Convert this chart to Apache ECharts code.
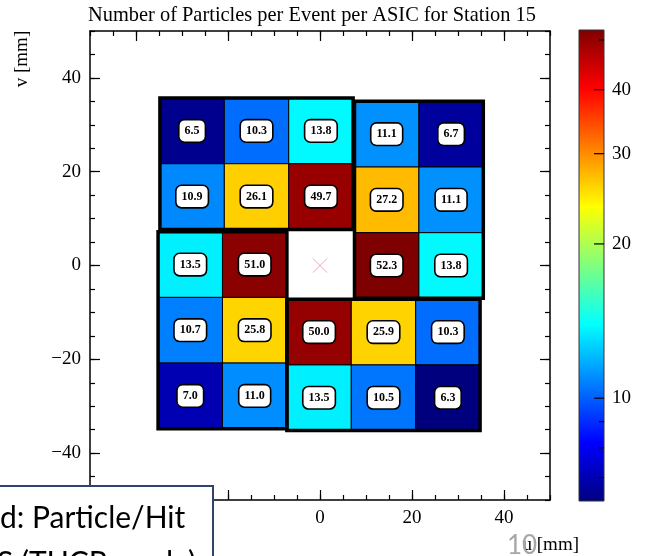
<!DOCTYPE html>
<html>
<head>
<meta charset="utf-8">
<script src="https://cdn.jsdelivr.net/npm/echarts@6/dist/echarts.min.js"></script>
<style>
html,body{margin:0;padding:0;background:#fff;}
#chart{width:648px;height:556px;}
</style>
</head>
<body>
<div id="chart"></div>
<script>
// ---- data ----
const titleText = 'Number of Particles per Event per ASIC for Station 15';
// ASIC modules (pinwheel layout), origins in mm (lower-left corner)
const moduleX0 = [-34.8, 7.5, -7.2, -35.2];
const moduleY0 = [7.7, -7.0, -35.2, -34.8];
const moduleCols = [3, 2, 3, 2];
const moduleRows = [2, 3, 2, 3];
const cellSize = 14; // mm
// values per module, row-major starting from the top row
const topModuleValues = [6.5, 10.3, 13.8, 10.9, 26.1, 49.7];
const rightModuleValues = [11.1, 6.7, 27.2, 11.1, 52.3, 13.8];
const bottomModuleValues = [50.0, 25.9, 10.3, 13.5, 10.5, 6.3];
const leftModuleValues = [13.5, 51.0, 10.7, 25.8, 7.0, 11.0];
const moduleValues = [topModuleValues, rightModuleValues, bottomModuleValues, leftModuleValues];
const centerMark = [[0, 0]];
const colorbarMajor = [10, 20, 30, 40];
const colorbarMinor = [7, 8, 9, 50];
const jet = ['#00007f', '#0000ff', '#007fff', '#00ffff', '#7fff7f', '#ffff00', '#ff7f00', '#ff0000', '#7f0000'];

// ---- build ----
const cells = [];
const modules = [];
const allVals = [];
for (let m = 0; m < moduleX0.length; m++) {
  const x0 = moduleX0[m], y0 = moduleY0[m], nc = moduleCols[m], nr = moduleRows[m];
  modules.push([x0, y0, x0 + nc * cellSize, y0 + nr * cellSize]);
  for (let r = 0; r < nr; r++) {
    for (let c = 0; c < nc; c++) {
      const v = moduleValues[m][r * nc + c];
      const cx0 = x0 + c * cellSize;
      const cy1 = y0 + (nr - r) * cellSize;
      cells.push([cx0, cy1 - cellSize, cx0 + cellSize, cy1, v, Math.log10(v)]);
      allVals.push(v);
    }
  }
}
const vMin = Math.min(...allVals), vMax = Math.max(...allVals);
const lMin = Math.log10(vMin), lMax = Math.log10(vMax);
const cbTicks = colorbarMajor.map(v => [1, Math.log10(v), 1, v]).concat(colorbarMinor.map(v => [1, Math.log10(v), 0, v]));

const SERIF = '"Liberation Serif", "Times New Roman", serif';
const fmtY = v => (v < 0 ? '\u2212' + Math.abs(v) : String(v));
const fmtX = v => (v < 0 ? '' : String(v));
const lineStyle = { color: '#000', width: 1.5 };
const tickStyle = { color: '#000', width: 1.2 };
const axLine = { show: true, onZero: false, lineStyle };
const noLine = { show: false, onZero: false };

const chart = echarts.init(document.getElementById('chart'), null, { renderer: 'canvas' });

const G = { left: 90, top: 31, width: 460, height: 469 };
const pxPerX = G.width / 100, pxPerY = G.height / 100;

const option = {
  backgroundColor: '#fff',
  animation: false,
  grid: [
    { left: G.left, top: G.top, width: G.width, height: G.height },
    { left: G.left + 10 * pxPerX, top: G.top, width: 80 * pxPerX, height: G.height },
    { left: G.left, top: G.top + 10 * pxPerY, width: G.width, height: 80 * pxPerY },
    { left: 579, top: 30, width: 25, height: 471 }
  ],
  xAxis: [
    { gridIndex: 0, type: 'value', position: 'bottom', min: -50, max: 50, interval: 5,
      axisLine: axLine, axisTick: { show: true, inside: true, length: 5, lineStyle: tickStyle },
      axisLabel: { show: false }, splitLine: { show: false } },
    { gridIndex: 0, type: 'value', position: 'top', min: -50, max: 50, interval: 5,
      axisLine: axLine, axisTick: { show: true, inside: true, length: 5, lineStyle: tickStyle },
      axisLabel: { show: false }, splitLine: { show: false } },
    { gridIndex: 1, type: 'value', position: 'bottom', min: -40, max: 40, interval: 20,
      axisLine: noLine, axisTick: { show: true, inside: true, length: 10, lineStyle: tickStyle },
      axisLabel: { show: true, margin: 9, formatter: fmtX, color: '#000', fontFamily: SERIF, fontSize: 19 },
      splitLine: { show: false } },
    { gridIndex: 1, type: 'value', position: 'top', min: -40, max: 40, interval: 20,
      axisLine: noLine, axisTick: { show: true, inside: true, length: 10, lineStyle: tickStyle },
      axisLabel: { show: false }, splitLine: { show: false } },
    { gridIndex: 2, type: 'value', show: false, min: -50, max: 50, axisLine: noLine },
    { gridIndex: 3, type: 'value', show: false, min: 0, max: 1, axisLine: noLine }
  ],
  yAxis: [
    { gridIndex: 0, type: 'value', position: 'left', min: -50, max: 50, interval: 5,
      axisLine: axLine, axisTick: { show: true, inside: true, length: 5, lineStyle: tickStyle },
      axisLabel: { show: false }, splitLine: { show: false } },
    { gridIndex: 0, type: 'value', position: 'right', min: -50, max: 50, interval: 5,
      axisLine: axLine, axisTick: { show: true, inside: true, length: 5, lineStyle: tickStyle },
      axisLabel: { show: false }, splitLine: { show: false } },
    { gridIndex: 1, type: 'value', show: false, min: -50, max: 50, axisLine: noLine },
    { gridIndex: 2, type: 'value', position: 'left', min: -40, max: 40, interval: 20,
      axisLine: noLine, axisTick: { show: true, inside: true, length: 10, lineStyle: tickStyle },
      axisLabel: { show: true, margin: 9, formatter: fmtY, color: '#000', fontFamily: SERIF, fontSize: 19 },
      splitLine: { show: false } },
    { gridIndex: 2, type: 'value', position: 'right', min: -40, max: 40, interval: 20,
      axisLine: noLine, axisTick: { show: true, inside: true, length: 10, lineStyle: tickStyle },
      axisLabel: { show: false }, splitLine: { show: false } },
    { gridIndex: 3, type: 'value', show: false, min: lMin, max: lMax, axisLine: noLine }
  ],
  visualMap: [{
    type: 'continuous', show: false, seriesIndex: 0, dimension: 5,
    min: lMin, max: lMax, inRange: { color: jet }
  }],
  series: [
    { // cells
      type: 'custom', xAxisIndex: 0, yAxisIndex: 0, data: cells, clip: false,
      renderItem: function (params, api) {
        const p0 = api.coord([api.value(0), api.value(3)]);
        const p1 = api.coord([api.value(2), api.value(1)]);
        const cx = (p0[0] + p1[0]) / 2, cy = (p0[1] + p1[1]) / 2;
        return {
          type: 'group',
          children: [
            { type: 'rect', shape: { x: p0[0], y: p0[1], width: p1[0] - p0[0], height: p1[1] - p0[1] },
              style: { fill: api.visual('color'), stroke: '#000', lineWidth: 1 } },
            { type: 'text', x: cx, y: cy, z2: 10,
              style: { text: api.value(4).toFixed(1), font: 'bold 12px ' + SERIF, fill: '#000',
                align: 'center', verticalAlign: 'middle', backgroundColor: '#fff',
                borderColor: '#000', borderWidth: 1.6, borderRadius: 5, padding: [5, 5, 4, 5] } }
          ]
        };
      }
    },
    { // module outlines
      type: 'custom', xAxisIndex: 0, yAxisIndex: 0, data: modules, clip: false, silent: true,
      renderItem: function (params, api) {
        const p0 = api.coord([api.value(0), api.value(3)]);
        const p1 = api.coord([api.value(2), api.value(1)]);
        return { type: 'rect', shape: { x: p0[0], y: p0[1], width: p1[0] - p0[0], height: p1[1] - p0[1] },
          style: { fill: 'none', stroke: '#000', lineWidth: 3.5 } };
      }
    },
    { // center marker
      type: 'custom', xAxisIndex: 0, yAxisIndex: 0, data: centerMark, silent: true,
      renderItem: function (params, api) {
        const p = api.coord([api.value(0), api.value(1)]);
        const s = 7;
        return { type: 'group', children: [
          { type: 'line', shape: { x1: p[0] - s, y1: p[1] - s, x2: p[0] + s, y2: p[1] + s }, style: { stroke: '#f5a3bd', lineWidth: 1 } },
          { type: 'line', shape: { x1: p[0] - s, y1: p[1] + s, x2: p[0] + s, y2: p[1] - s }, style: { stroke: '#f5a3bd', lineWidth: 1 } }
        ] };
      }
    },
    { // colorbar
      type: 'custom', xAxisIndex: 5, yAxisIndex: 5, data: [[0, lMin, 1, lMax]], silent: true,
      renderItem: function (params, api) {
        const p0 = api.coord([api.value(0), api.value(3)]);
        const p1 = api.coord([api.value(2), api.value(1)]);
        const stops = jet.map((c, i) => ({ offset: i / (jet.length - 1), color: c }));
        return { type: 'rect', shape: { x: p0[0], y: p0[1], width: p1[0] - p0[0], height: p1[1] - p0[1] },
          style: { fill: new echarts.graphic.LinearGradient(0, 1, 0, 0, stops), stroke: '#333', lineWidth: 1 } };
      }
    },
    { // colorbar ticks + labels
      type: 'custom', xAxisIndex: 5, yAxisIndex: 5, data: cbTicks, silent: true,
      renderItem: function (params, api) {
        const p = api.coord([api.value(0), api.value(1)]);
        const major = api.value(2) === 1;
        const len = major ? 10 : 5;
        const children = [{ type: 'line', shape: { x1: p[0], y1: p[1], x2: p[0] - len, y2: p[1] }, style: { stroke: '#000', lineWidth: 1.2 } }];
        if (major) {
          children.push({ type: 'text', x: p[0] + 8, y: p[1], style: { text: String(api.value(3)), font: '19px ' + SERIF, fill: '#000', align: 'left', verticalAlign: 'middle' } });
        }
        return { type: 'group', children };
      }
    }
  ],
  graphic: [
    { type: 'text', x: 312, y: 16, style: { text: titleText, font: '20.4px ' + SERIF, fill: '#000', align: 'center', verticalAlign: 'middle' } },
    { type: 'text', x: 22, y: 59, rotation: Math.PI / 2, style: { text: 'v [mm]', font: '19px ' + SERIF, fill: '#000', align: 'center', verticalAlign: 'middle' } },
    { type: 'text', x: 579, y: 545, style: { text: 'u [mm]', font: '19px ' + SERIF, fill: '#000', align: 'right', verticalAlign: 'middle' } },
    { type: 'text', x: 522, y: 546, z: 20, style: { text: '10', font: '26px Lato, "Liberation Sans", sans-serif', fill: '#a6a6a6', align: 'center', verticalAlign: 'middle' } },
    { type: 'rect', z: 50, shape: { x: -3, y: 486, width: 216, height: 80 }, style: { fill: '#fff', stroke: '#2f4468', lineWidth: 2 } },
    { type: 'text', z: 51, x: 0, y: 518, style: { text: 'd: Particle/Hit', font: '30px Lato, "Liberation Sans", sans-serif', fill: '#000', align: 'left', verticalAlign: 'middle' } },
    { type: 'text', z: 51, x: -3, y: 563, style: { text: 'S (TUCP mode)', font: '30px Lato, "Liberation Sans", sans-serif', fill: '#000', align: 'left', verticalAlign: 'middle' } }
  ]
};
chart.setOption(option);
</script>
</body>
</html>
